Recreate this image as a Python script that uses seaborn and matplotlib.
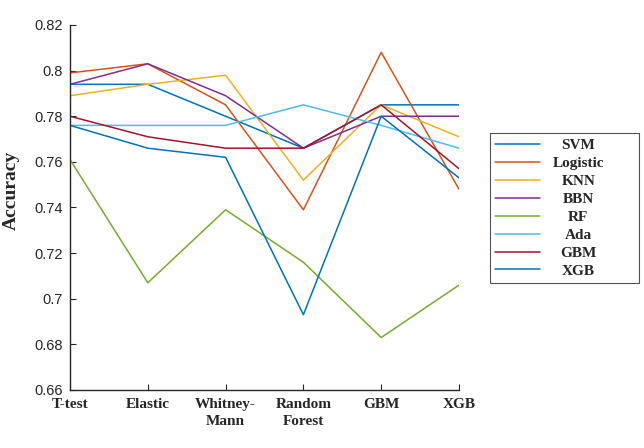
import matplotlib
matplotlib.use("Agg")
import matplotlib.pyplot as plt
import seaborn as sns
import pandas as pd
from matplotlib.ticker import FuncFormatter, MultipleLocator

methods = ["T-test", "Elastic", "Whitney-\nMann", "Random\nForest", "GBM", "XGB"]
models = ["SVM", "Logistic", "KNN", "BBN", "RF", "Ada", "GBM", "XGB"]

svm = [0.794, 0.794, 0.780, 0.766, 0.785, 0.785]
logistic = [0.799, 0.803, 0.785, 0.739, 0.808, 0.748]
knn = [0.789, 0.794, 0.798, 0.752, 0.785, 0.771]
bbn = [0.794, 0.803, 0.789, 0.766, 0.780, 0.780]
rf = [0.761, 0.707, 0.739, 0.716, 0.683, 0.706]
ada = [0.776, 0.776, 0.776, 0.785, 0.776, 0.766]
gbm = [0.780, 0.771, 0.766, 0.766, 0.785, 0.757]
xgb = [0.776, 0.766, 0.762, 0.693, 0.780, 0.753]

series = [svm, logistic, knn, bbn, rf, ada, gbm, xgb]
colors = ["#0072BD", "#D95319", "#EDB120", "#7E2F8E", "#77AC30", "#4DBEEE", "#A2142F", "#0072BD"]

rows = []
for m, vals in zip(models, series):
    for i, v in enumerate(vals):
        rows.append({"model": m, "pos": i, "acc": v})
df = pd.DataFrame(rows)

sns.set_style("white")
plt.rcParams["font.family"] = ["Liberation Sans", "DejaVu Sans"]

fig = plt.figure(figsize=(6.44, 4.48), dpi=100)
ax = fig.add_axes([70/644, 1-390/448, (459-70)/644, (390-25)/448])

sns.lineplot(data=df, x="pos", y="acc", hue="model", hue_order=models,
             palette=dict(zip(models, colors)), linewidth=1.1, legend=False, ax=ax)

ax.set_xlim(0, 5)
ax.set_ylim(0.66, 0.82)
ax.yaxis.set_major_locator(MultipleLocator(0.02))
ax.yaxis.set_major_formatter(FuncFormatter(lambda v, p: "%g" % round(v, 2)))
ax.set_xticks(range(len(methods)))
ax.set_xticklabels(methods, fontfamily="Liberation Serif", fontweight="bold", fontsize=11,
                   linespacing=1.4)
ax.tick_params(axis="y", labelsize=10.5, labelcolor="#262626", direction="in", length=4,
               color="#262626", left=True, pad=5)
ax.tick_params(axis="x", direction="in", length=4, color="#262626", bottom=True, pad=6)
ax.set_xlabel("")
ax.set_ylabel("Accuracy", fontfamily="Liberation Serif", fontweight="bold", fontsize=14)
ax.yaxis.set_label_coords((20-70)/389, (390-190)/365)
for s in ["top", "right"]:
    ax.spines[s].set_visible(False)
for s in ["left", "bottom"]:
    ax.spines[s].set_color("#262626")
    ax.spines[s].set_linewidth(1.0)

handles = ax.get_lines()[:len(models)]
leg = fig.legend(handles, models, loc="upper left",
                 bbox_to_anchor=(490/644, 1-283/448, 149/644, 150/448), mode="expand",
                 frameon=True, fancybox=False, edgecolor="#262626",
                 prop={"family": "Liberation Serif", "weight": "bold", "size": 11},
                 handlelength=2.9, handletextpad=0.85, labelspacing=0.28,
                 borderpad=0.35, borderaxespad=0)
leg.get_frame().set_linewidth(0.8)
for h in leg.get_lines():
    h.set_linewidth(1.1)

# center the legend labels within their column, as in the reference
fig.canvas.draw()
renderer = fig.canvas.get_renderer()
texts = leg.get_texts()
widths = [t.get_window_extent(renderer).width for t in texts]
maxw = max(widths)
for t, w in zip(texts, widths):
    t.set_x((maxw - w) / 2)

fig.savefig("out.png", dpi=100)
